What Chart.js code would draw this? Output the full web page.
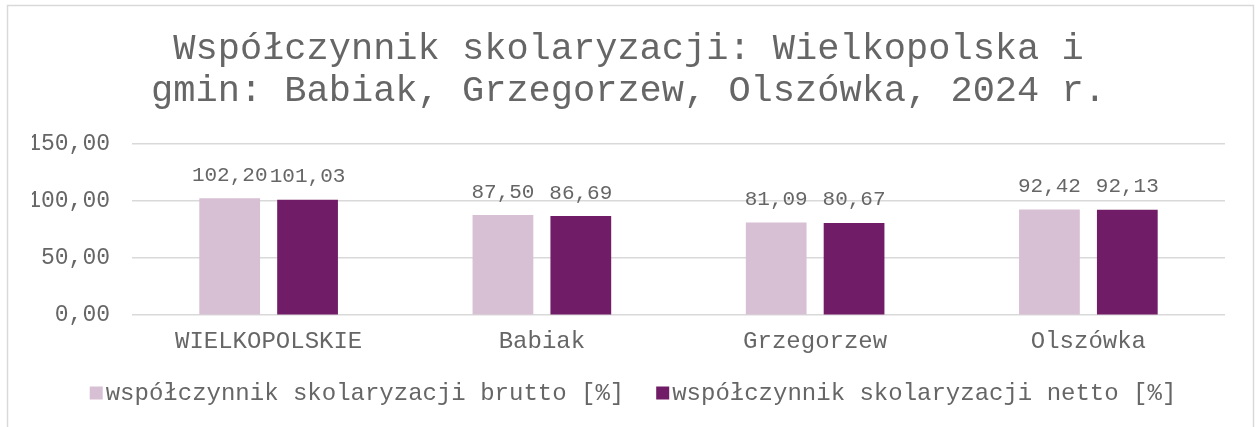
<!DOCTYPE html>
<html lang="pl">
<head>
<meta charset="utf-8">
<script src="https://cdn.jsdelivr.net/npm/chart.js@4.4.1/dist/chart.umd.min.js"></script>
<style>
  html, body { margin: 0; padding: 0; background: #fff; }
  #wrap { position: relative; width: 1257px; height: 427px; }
</style>
</head>
<body>
<div id="wrap"><canvas id="skolChart"></canvas></div>
<script>
const categories = ['WIELKOPOLSKIE', 'Babiak', 'Grzegorzew', 'Olszówka'];
const bruttoValues = [102.20, 87.50, 81.09, 92.42];
const nettoValues = [101.03, 86.69, 80.67, 92.13];
const yTicks = [0, 50, 100, 150];

const textGray = '#666666';
const mono = "'Liberation Mono', 'Courier New', monospace";

function plNumber(v) {
    return v.toFixed(2).replace('.', ',');
}

// outer frame of the chart
const framePlugin = {
    id: 'frame',
    beforeDraw(chart) {
        const c = chart.ctx;
        c.save();
        c.fillStyle = '#fff';
        c.fillRect(0, 0, chart.width, chart.height);
        c.strokeStyle = '#d9d9d9';
        c.lineWidth = 1.5;
        c.strokeRect(7.5, 5.5, 1246, 500);
        c.restore();
    }
};

// value labels over each bar
const valueLabels = {
    id: 'valueLabels',
    afterDatasetsDraw(chart) {
        const c = chart.ctx;
        c.save();
        c.font = '21px ' + mono;
        c.fillStyle = textGray;
        c.textAlign = 'center';
        c.textBaseline = 'middle';
        chart.data.datasets.forEach((ds, i) => {
            chart.getDatasetMeta(i).data.forEach((bar, j) => {
                c.fillText(plNumber(ds.data[j]), bar.x, bar.y - 23);
            });
        });
        c.restore();
    }
};

// compact legend under the axis (square swatch right next to the text)
const bottomLegend = {
    id: 'bottomLegend',
    afterDraw(chart) {
        const c = chart.ctx;
        const box = 13, gapText = 3, gapItem = 32, cy = 393;
        c.save();
        c.font = '24px ' + mono;
        c.textBaseline = 'middle';
        const items = chart.data.datasets.map(ds => ({
            text: ds.label, color: ds.backgroundColor, w: c.measureText(ds.label).width
        }));
        let total = items.reduce((s, it) => s + box + gapText + it.w, 0) + gapItem * (items.length - 1);
        let x = 633 - total / 2;
        items.forEach(it => {
            c.fillStyle = it.color;
            c.fillRect(x, cy - box / 2, box, box);
            x += box + gapText;
            c.fillStyle = textGray;
            c.fillText(it.text, x, cy + 1);
            x += it.w + gapItem;
        });
        c.restore();
    }
};

document.addEventListener('DOMContentLoaded', function() {
    const ctx = document.getElementById('skolChart').getContext('2d');

    new Chart(ctx, {
        type: 'bar',
        data: {
            labels: categories,
            datasets: [{
                label: 'współczynnik skolaryzacji brutto [%]',
                data: bruttoValues,
                backgroundColor: '#d7bfd4'
            }, {
                label: 'współczynnik skolaryzacji netto [%]',
                data: nettoValues,
                backgroundColor: '#701c66'
            }]
        },
        options: {
            responsive: true,
            maintainAspectRatio: false,
            animation: false,
            categoryPercentage: 0.57,
            barPercentage: 0.78,
            layout: {
                padding: { left: 32, right: 32, top: 28, bottom: 67 }
            },
            plugins: {
                title: {
                    display: true,
                    text: ['Współczynnik skolaryzacji: Wielkopolska i',
                           'gmin: Babiak, Grzegorzew, Olszówka, 2024 r.'],
                    color: textGray,
                    font: { family: mono, size: 37, weight: 'normal', lineHeight: 1.13 },
                    padding: { top: 0, bottom: 32 }
                },
                legend: { display: false },
                tooltip: { enabled: false }
            },
            scales: {
                x: {
                    grid: { display: false },
                    border: { display: false },
                    ticks: {
                        color: textGray,
                        font: { family: mono, size: 24 },
                        padding: 4
                    }
                },
                y: {
                    min: 0,
                    max: 150,
                    afterBuildTicks(axis) {
                        axis.ticks = yTicks.map(v => ({ value: v }));
                    },
                    afterFit(axis) {
                        axis.width = 100;
                    },
                    grid: { color: '#d9d9d9', lineWidth: 1.5, drawTicks: false },
                    border: { display: false },
                    ticks: {
                        color: textGray,
                        font: { family: mono, size: 23 },
                        padding: 22,
                        callback: v => plNumber(v)
                    }
                }
            }
        },
        plugins: [framePlugin, valueLabels, bottomLegend]
    });
});
</script>
</body>
</html>
